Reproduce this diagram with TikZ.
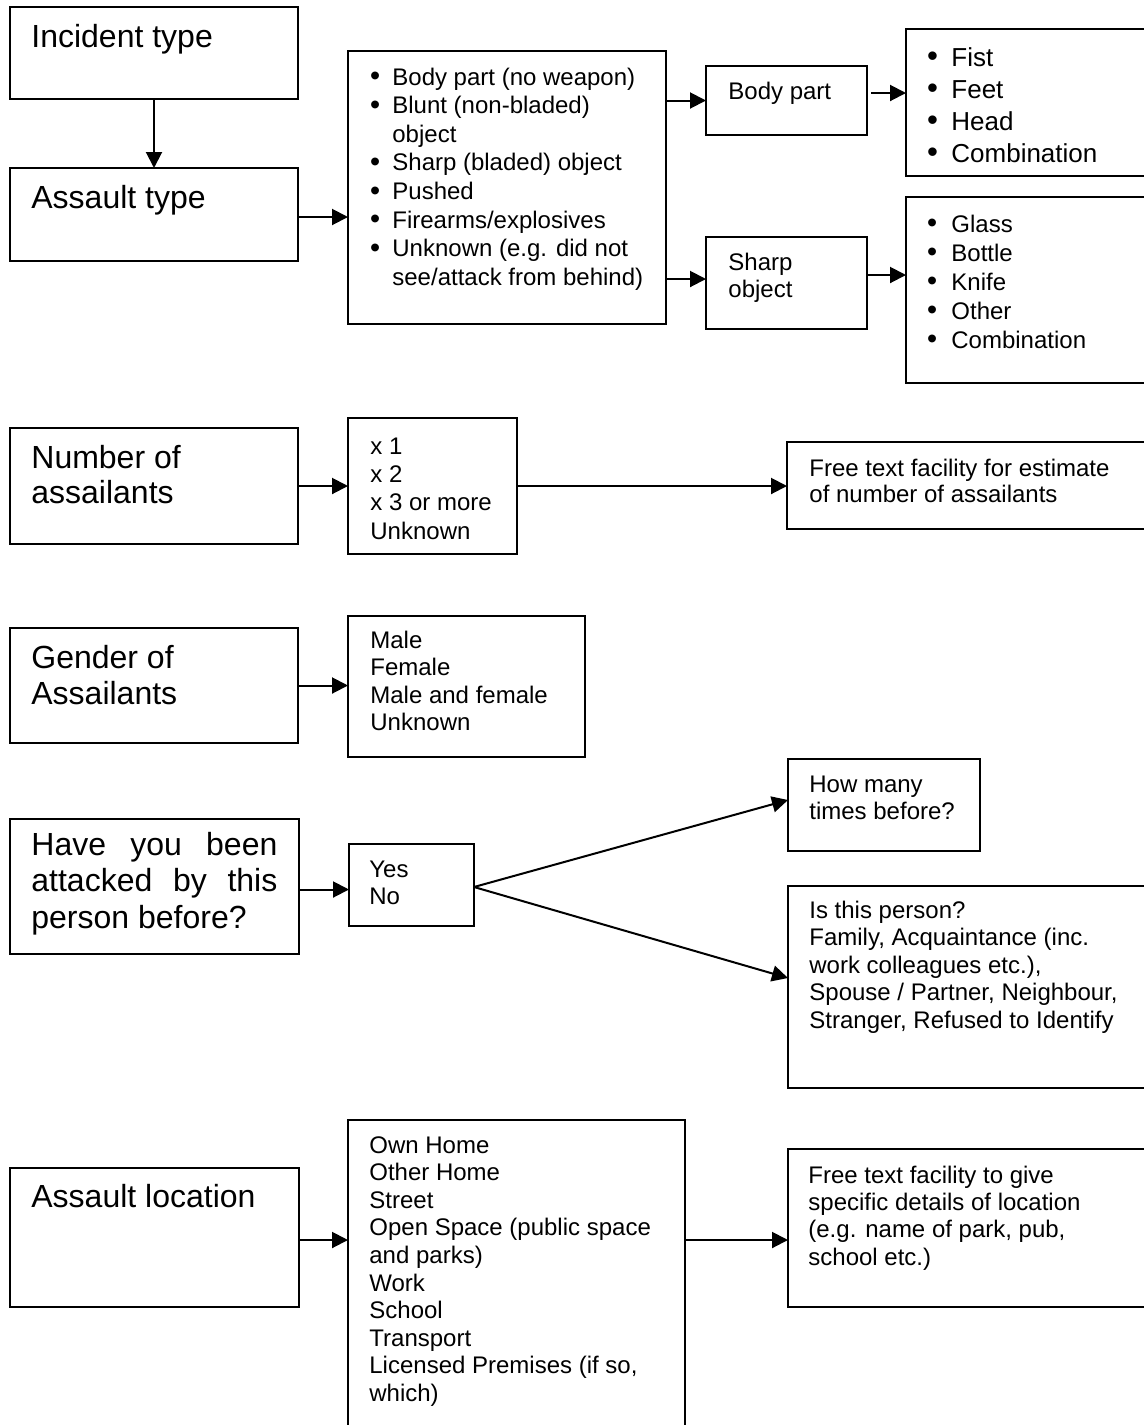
\documentclass[tikz,border=0pt]{standalone}
\usepackage{fontspec}
\setmainfont{Liberation Sans}
\usetikzlibrary{arrows.meta}
\newcommand\rows[1]{\begin{tabular}[t]{@{}l@{}}#1\end{tabular}}
\newcommand\bl[1]{\makebox[#1][l]{\hspace*{-0.6pt}\raisebox{-0.3pt}{\scalebox{1.2}{•}}}}
\newcommand\bx[5]{\node[box, minimum width=#4*0.5pt-#2*0.5pt, minimum height=#5*0.5pt-#3*0.5pt] (#1) at (#2,#3) {};}
\begin{document}
\begin{tikzpicture}[x=0.5pt,y=-0.5pt,
  box/.style={draw, line width=1pt, inner sep=0pt, outer sep=0pt, anchor=north west},
  txt/.style={inner sep=0pt, anchor=base west, font=\fontsize{12}{13.8}\selectfont},
  big/.style={inner sep=0pt, anchor=base west, font=\fontsize{16}{18}\selectfont},
  arr/.style={line width=1pt, -{Triangle[length=8pt,width=8pt]}},
  ln/.style={line width=1pt}]
\useasboundingbox (0,0) rectangle (1144,1425);
\clip (0,0) rectangle (1144,1425);
% boxes
\bx{inc}{10}{7}{298}{99}
\bx{ast}{10}{168}{298}{261}
\bx{lst}{348}{51}{666}{324}
\bx{bp}{706}{66}{867}{135}
\bx{fist}{906}{29}{1220}{176}
\bx{sh}{706}{237}{867}{329}
\bx{glass}{906}{197}{1220}{383}
\bx{num}{10}{428}{298}{544}
\bx{numl}{348}{418}{517}{554}
\bx{freeA}{787}{442}{1220}{529}
\bx{gen}{10}{628}{298}{743}
\bx{genl}{348}{616}{585}{757}
\bx{have}{10}{819}{299}{954}
\bx{yn}{349}{844}{474}{926}
\bx{how}{788}{759}{980}{851}
\bx{isp}{788}{886}{1220}{1088}
\bx{loc}{10}{1168}{299}{1307}
\bx{locl}{348}{1120}{685}{1500}
\bx{freeB}{788}{1149}{1220}{1307}
% texts
\node[big] (tinc) at (31,47) {Incident type};
\node[big] (tast) at (31,208) {Assault type};
\node[txt, font=\fontsize{12}{14.3}\selectfont] (tlst) at (371,85) {\rows{%
\bl{10.5pt}Body part (no weapon)\\
\bl{10.5pt}Blunt (non-bladed)\\
\hspace*{10.5pt}object\\
\bl{10.5pt}Sharp (bladed) object\\
\bl{10.5pt}Pushed\\
\bl{10.5pt}Firearms/explosives\\
\bl{10.5pt}Unknown (e.g. did not\\
\hspace*{10.5pt}see/attack from behind)}};
\node[txt] (tbp) at (728,99) {Body part};
\node[txt, font=\fontsize{13}{16}\selectfont] (tfist) at (928,66) {\rows{%
\bl{11.5pt}Fist\\
\bl{11.5pt}Feet\\
\bl{11.5pt}Head\\
\bl{11.5pt}Combination}};
\node[txt] (tsh) at (728,270) {\rows{Sharp\\object}};
\node[txt, font=\fontsize{12}{14.5}\selectfont] (tglass) at (928,232) {\rows{%
\bl{11.5pt}Glass\\
\bl{11.5pt}Bottle\\
\bl{11.5pt}Knife\\
\bl{11.5pt}Other\\
\bl{11.5pt}Combination}};
\node[big, font=\fontsize{16}{17.8}\selectfont] (tnum) at (31,468) {\rows{Number of\\assailants}};
\node[txt, font=\fontsize{12}{14.2}\selectfont] (tnuml) at (370,454) {\rows{x 1\\x 2\\x 3 or more\\Unknown}};
\node[txt, font=\fontsize{12}{13}\selectfont] (tfreeA) at (809,476) {\rows{Free text facility for estimate\\of number of assailants}};
\node[big] (tgen) at (31,668) {\rows{Gender of\\Assailants}};
\node[txt] (tgenl) at (370,648) {\rows{Male\\Female\\Male and female\\Unknown}};
\node[big, font=\fontsize{16}{18.25}\selectfont] (thave) at (31,855) {\rows{%
\makebox[123pt][s]{Have you been}\\
\makebox[123pt][s]{attacked by this}\\
person before?}};
\node[txt, font=\fontsize{12}{13.5}\selectfont] (tyn) at (369,877) {\rows{Yes\\No}};
\node[txt, font=\fontsize{12}{13.5}\selectfont] (thow) at (809,792) {\rows{How many\\times before?}};
\node[txt, font=\fontsize{12}{13.75}\selectfont] (tisp) at (809,918) {\rows{Is this person?\\
Family, Acquaintance (inc.\\
work colleagues etc.),\\
Spouse / Partner, Neighbour,\\
Stranger, Refused to Identify}};
\node[big] (tloc) at (31,1207) {Assault location};
\node[txt] (tlocl) at (369,1153) {\rows{Own Home\\Other Home\\Street\\Open Space (public space\\and parks)\\Work\\School\\Transport\\Licensed Premises (if so,\\which)}};
\node[txt, font=\fontsize{12}{13.7}\selectfont] (tfreeB) at (808,1183) {\rows{Free text facility to give\\specific details of location\\(e.g. name of park, pub,\\school etc.)}};
% connectors
\draw[arr] (inc.south) -- (ast.north);
\draw[arr] ([yshift=-1.25pt]ast.east) -- ([yshift=-1.25pt]ast.east -| lst.west);
\draw[arr] (bp.west -| lst.east) -- (bp.west);
\draw[arr] ([yshift=2pt]sh.west -| lst.east) -- ([yshift=2pt]sh.west);
\draw[arr] ([xshift=2pt,yshift=3.75pt]bp.east) -- ([yshift=3.75pt]bp.east -| fist.west);
\draw[arr] ([yshift=4pt]sh.east) -- ([yshift=4pt]sh.east -| glass.west);
\draw[arr] (num.east) -- (num.east -| numl.west);
\draw[arr] (num.east -| numl.east) -- (num.east -| freeA.west);
\draw[arr] (gen.east) -- (gen.east -| genl.west);
\draw[arr] ([yshift=-1.5pt]have.east) -- ([yshift=-1.5pt]have.east -| yn.west);
\draw[arr] ([yshift=-1pt]yn.east) -- ([yshift=2.5pt]how.west);
\draw[arr] ([yshift=-1pt]yn.east) -- ([yshift=4.5pt]isp.west);
\draw[arr] ([yshift=-1.25pt]loc.east) -- ([yshift=-1.25pt]loc.east -| locl.west);
\draw[arr] ([yshift=-1.25pt]loc.east -| locl.east) -- ([yshift=-1.25pt]loc.east -| freeB.west);
\end{tikzpicture}
\end{document}
